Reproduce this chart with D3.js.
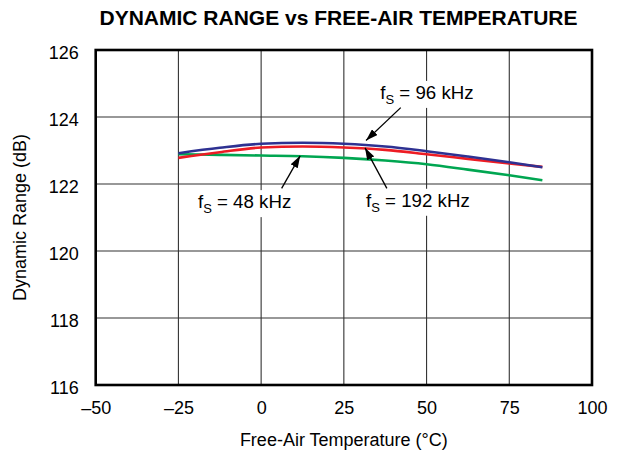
<!DOCTYPE html>
<html>
<head>
<meta charset="utf-8">
<script src="https://cdn.jsdelivr.net/npm/d3@7"></script>
<style>
  html, body { margin: 0; padding: 0; background: #fff; }
  svg { display: block; font-family: "Liberation Sans", Arial, Helvetica, sans-serif; }
</style>
</head>
<body>
<svg id="chart" width="618" height="454"></svg>
<script>
// ---- data ----
const temperature = [-25, -12.5, 0, 12.5, 25, 37.5, 50, 62.5, 75, 85];
const dr96k  = [122.92, 123.08, 123.20, 123.23, 123.20, 123.12, 122.98, 122.82, 122.65, 122.50];
const dr192k = [122.78, 122.95, 123.09, 123.12, 123.09, 123.02, 122.89, 122.75, 122.61, 122.51];
const dr48k  = [122.89, 122.87, 122.85, 122.83, 122.78, 122.70, 122.59, 122.43, 122.26, 122.11];
const xTicks = [-50, -25, 0, 25, 50, 75, 100];
const yTicks = [116, 118, 120, 122, 124, 126];
const seriesNames = ["48 kHz", "192 kHz", "96 kHz"];
// annotation: label anchor (temp, dB), arrow start (temp, dB), arrow tip (temp, dB)
const annLabels = ["96 kHz", "48 kHz", "192 kHz"];
const annText  = [[36.0, 124.54], [-19.1, 121.28], [31.7, 121.32]];
const annFrom  = [[42.2, 124.28], [6.2, 121.87], [38.0, 121.87]];
const annTo    = [[31.7, 123.30], [11.8, 122.84], [31.4, 123.08]];

// ---- layout ----
const svg = d3.select("#chart");
const mLeft = 95.7, mRight = 592, mTop = 50, mBottom = 385;
const x = d3.scaleLinear().domain([-50, 100]).range([mLeft, mRight]);
const y = d3.scaleLinear().domain([116, 126]).range([mBottom, mTop]);
const colors = {"48 kHz": "#00a651", "192 kHz": "#ed1c24", "96 kHz": "#2e3192"};
const values = {"48 kHz": dr48k, "192 kHz": dr192k, "96 kHz": dr96k};

// title
svg.append("text")
  .attr("x", 338.5).attr("y", 25)
  .attr("text-anchor", "middle")
  .attr("font-size", 21).attr("font-weight", "bold")
  .text("DYNAMIC RANGE vs FREE-AIR TEMPERATURE");

// gridlines
const grid = svg.append("g");
grid.selectAll(".vg").data(xTicks.slice(1, -1)).join("line")
  .attr("x1", d => x(d)).attr("x2", d => x(d))
  .attr("y1", mTop).attr("y2", mBottom)
  .attr("stroke", "#333").attr("stroke-width", 1.1);
grid.selectAll(".hg").data(yTicks.slice(1, -1)).join("line")
  .attr("x1", mLeft).attr("x2", mRight)
  .attr("y1", d => y(d)).attr("y2", d => y(d))
  .attr("stroke", "#333").attr("stroke-width", 1.1);

// axes labels via d3 axes
const fmt = d => d < 0 ? "\u2013" + Math.abs(d) : String(d);
const xAxis = svg.append("g")
  .attr("transform", `translate(0,${mBottom})`)
  .call(d3.axisBottom(x).tickValues(xTicks).tickFormat(fmt).tickSize(0).tickPadding(16));
xAxis.select(".domain").remove();
xAxis.selectAll("text").attr("font-size", 18).attr("fill", "#000")
  .attr("font-family", "Liberation Sans, Arial, sans-serif");

const yAxis = svg.append("g")
  .attr("transform", `translate(${mLeft},0)`)
  .call(d3.axisLeft(y).tickValues(yTicks).tickSize(0).tickPadding(17));
yAxis.select(".domain").remove();
yAxis.selectAll("text").attr("font-size", 18).attr("fill", "#000")
  .attr("dy", "0.45em")
  .attr("font-family", "Liberation Sans, Arial, sans-serif");

svg.append("text")
  .attr("x", (mLeft + mRight) / 2).attr("y", 446)
  .attr("text-anchor", "middle").attr("font-size", 18)
  .text("Free-Air Temperature (\u00B0C)");

svg.append("text")
  .attr("transform", `translate(26,${(mTop + mBottom) / 2}) rotate(-90)`)
  .attr("text-anchor", "middle").attr("font-size", 18)
  .text("Dynamic Range (dB)");

// annotation labels with white background
const annG = svg.append("g");
const labelNodes = annLabels.map((lab, i) => {
  const t = annG.append("text")
    .attr("x", x(annText[i][0])).attr("y", y(annText[i][1]))
    .attr("font-size", 18.7).attr("fill", "#000");
  t.append("tspan").text("f");
  t.append("tspan").attr("font-size", 13).attr("dy", 5).text("S");
  t.append("tspan").attr("dy", -5).text(" = " + lab);
  return t;
});
labelNodes.forEach(t => {
  const b = t.node().getBBox();
  annG.insert("rect", "text")
    .attr("x", b.x - 2).attr("y", b.y - 1)
    .attr("width", b.width + 4).attr("height", b.height + 2)
    .attr("fill", "#fff");
});

// data lines
const line = d3.line()
  .x((d, i) => x(temperature[i]))
  .y(d => y(d))
  .curve(d3.curveMonotoneX);
svg.append("g").selectAll("path").data(seriesNames).join("path")
  .attr("d", n => line(values[n]))
  .attr("fill", "none")
  .attr("stroke", n => colors[n])
  .attr("stroke-width", 2.6);

// arrows
svg.append("defs").append("marker")
  .attr("id", "arr").attr("viewBox", "0 0 12 8")
  .attr("refX", 12).attr("refY", 4)
  .attr("markerWidth", 12).attr("markerHeight", 8)
  .attr("markerUnits", "userSpaceOnUse")
  .attr("orient", "auto")
  .append("path").attr("d", "M0,0 L12,4 L0,8 Z").attr("fill", "#000");
svg.append("g").selectAll("line").data(annFrom).join("line")
  .attr("x1", d => x(d[0])).attr("y1", d => y(d[1]))
  .attr("x2", (d, i) => x(annTo[i][0])).attr("y2", (d, i) => y(annTo[i][1]))
  .attr("stroke", "#000").attr("stroke-width", 1.3)
  .attr("marker-end", "url(#arr)");

// frame
svg.append("rect")
  .attr("x", mLeft).attr("y", mTop)
  .attr("width", mRight - mLeft).attr("height", mBottom - mTop)
  .attr("fill", "none").attr("stroke", "#000").attr("stroke-width", 2.6);
</script>
</body>
</html>
